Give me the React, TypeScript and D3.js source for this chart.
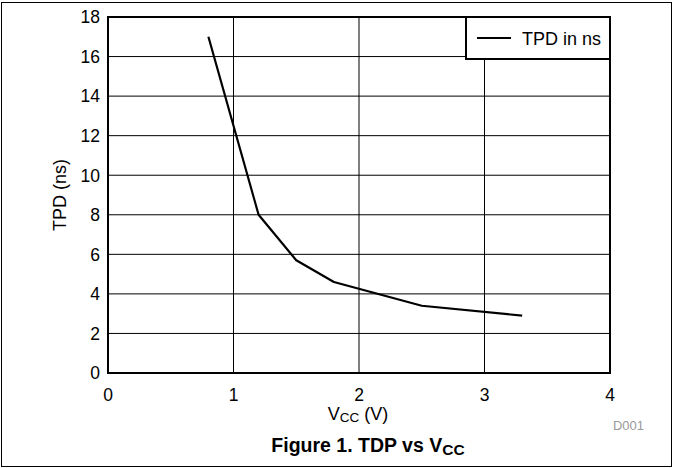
import React from "react";
import * as d3 from "d3";

const vcc = [0.8, 1.2, 1.5, 1.8, 2.5, 3.3];
const tpd = [17, 8, 5.7, 4.6, 3.4, 2.9];
const xTicks = [0, 1, 2, 3, 4];
const yTicks = [0, 2, 4, 6, 8, 10, 12, 14, 16, 18];

export default function App() {
  const W = 673, H = 468;
  const L = 108, R = 610, T = 17, B = 373;
  const x = d3.scaleLinear().domain([0, 4]).range([L, R]);
  const y = d3.scaleLinear().domain([0, 18]).range([B, T]);
  const line = d3.line<number>().x((d, i) => x(vcc[i])).y((d) => y(d));
  const font = "Liberation Sans, Arial, sans-serif";
  return (
    <svg width={W} height={H} style={{ position: "absolute", left: 0, top: 0 }} fontFamily={font}>
      <rect x={0} y={0} width={W} height={H} fill="#fff" />
      <rect x={1.5} y={2.5} width={W - 3} height={H - 4} fill="none" stroke="#000" strokeWidth={1} />
      {xTicks.slice(1, -1).map((t) => (
        <line key={"gx" + t} x1={x(t)} x2={x(t)} y1={T} y2={B} stroke="#000" strokeWidth={1} />
      ))}
      {yTicks.slice(1, -1).map((t) => (
        <line key={"gy" + t} x1={L} x2={R} y1={y(t)} y2={y(t)} stroke="#000" strokeWidth={1} />
      ))}
      <rect x={L} y={T} width={R - L} height={B - T} fill="none" stroke="#000" strokeWidth={2} />
      <path d={line(tpd) || ""} fill="none" stroke="#000" strokeWidth={2.2} strokeLinejoin="round" />
      {xTicks.map((t) => (
        <text key={"tx" + t} x={x(t)} y={401} textAnchor="middle" fontSize={17.5}>{t}</text>
      ))}
      {yTicks.map((t) => (
        <text key={"ty" + t} x={100} y={y(t) + 6.3} textAnchor="end" fontSize={17.5}>{t}</text>
      ))}
      <text transform={`translate(66,${(T + B) / 2}) rotate(-90)`} textAnchor="middle" fontSize={18}>TPD (ns)</text>
      <text x={358} y={420} textAnchor="middle" fontSize={18}>
        V<tspan fontSize={13.5} dy={2}>CC</tspan><tspan dy={-2}> (V)</tspan>
      </text>
      <text x={644} y={430} textAnchor="end" fontSize={13} fill="#999">D001</text>
      <text x={368} y={452} textAnchor="middle" fontSize={19.5} fontWeight="bold">
        Figure 1. TDP vs V<tspan fontSize={15.5} dy={3}>CC</tspan>
      </text>
      <rect x={466} y={T} width={R - 466} height={42} fill="#fff" stroke="#000" strokeWidth={2} />
      <line x1={477} x2={511} y1={38} y2={38} stroke="#000" strokeWidth={2} />
      <text x={522} y={44.5} fontSize={18}>TPD in ns</text>
    </svg>
  );
}
